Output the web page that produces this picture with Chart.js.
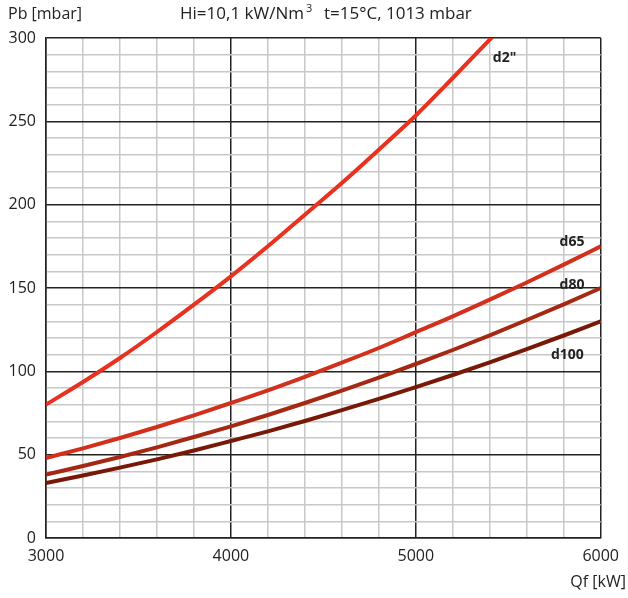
<!DOCTYPE html>
<html>
<head>
<meta charset="utf-8">
<script src="https://cdn.jsdelivr.net/npm/chart.js@4/dist/chart.umd.min.js"></script>
<style>
  body { margin: 0; background: #fff; }
  #wrap { width: 628px; height: 598px; }
</style>
</head>
<body>
<div id="wrap"><canvas id="myChart" width="628" height="598"></canvas></div>
<script>
var qf = [3000, 3200, 3400, 3600, 3800, 4000, 4200, 4400, 4600, 4800, 5000, 5200, 5400, 5600, 5800, 6000];
var d2 = [80, 93.6, 108, 123.6, 140, 157, 175, 194, 213, 233, 253.5, 276, 299, 322];
var d65 = [48, 53.8, 60, 66.6, 73.6, 81, 88.6, 96.7, 105.2, 114, 123.5, 133, 143, 153.3, 164, 175];
var d80 = [38, 43.2, 48.6, 54.4, 60.6, 67, 73.8, 81, 88.4, 96.2, 104.4, 112.8, 121.6, 130.8, 140.2, 150];
var d100 = [33, 37.5, 42.2, 47.2, 52.5, 58.2, 64.0, 70.2, 76.7, 83.5, 90.5, 97.8, 105.4, 113.3, 121.5, 130];
var seriesNames = ['d2"', "d65", "d80", "d100"];
// where each curve name sits, in data units
var nameX = [5480, 5845, 5845, 5820];
var nameY = [288, 177.5, 152, 110];

function pts(ys) {
  var out = [];
  for (var i = 0; i < ys.length; i++) out.push({x: qf[i], y: ys[i]});
  return out;
}

var font = "'Open Sans', 'Noto Sans', sans-serif";

var textPlugin = {
  id: "texts",
  afterDraw: function(chart) {
    var ctx = chart.ctx;
    var xs = chart.scales.x, ys = chart.scales.y;
    ctx.save();
    ctx.fillStyle = "#222";
    ctx.font = "16px " + font;
    ctx.textBaseline = "middle";
    ctx.textAlign = "left";
    ctx.fillText("Pb [mbar]", 8, 14);
    ctx.textAlign = "right";
    ctx.fillText("Qf [kW]", 626, 582);
    ctx.textAlign = "left";
    ctx.font = "17px " + font;
    ctx.fillText("Hi=10,1 kW/Nm", 180, 14);
    var w = ctx.measureText("Hi=10,1 kW/Nm").width;
    ctx.font = "11px " + font;
    ctx.fillText("3", 180 + w + 2, 9);
    ctx.font = "17px " + font;
    ctx.fillText("t=15°C, 1013 mbar", 180 + w + 20, 14);
    ctx.font = "bold 14px " + font;
    ctx.textAlign = "center";
    for (var i = 0; i < seriesNames.length; i++) {
      ctx.fillText(seriesNames[i], xs.getPixelForValue(nameX[i]), ys.getPixelForValue(nameY[i]));
    }
    ctx.restore();
  }
};

new Chart("myChart", {
  type: "line",
  data: {
    datasets: [
      { data: pts(d2), borderColor: "#e8311f", borderWidth: 4 },
      { data: pts(d65), borderColor: "#d2301c", borderWidth: 4 },
      { data: pts(d80), borderColor: "#a52812", borderWidth: 4 },
      { data: pts(d100), borderColor: "#781806", borderWidth: 4 }
    ]
  },
  options: {
    responsive: false,
    animation: false,
    clip: true,
    elements: { point: { radius: 0 }, line: { tension: 0.4, cubicInterpolationMode: "monotone" } },
    layout: { padding: { top: 38, right: 26, left: 0, bottom: 0 } },
    plugins: { legend: { display: false }, tooltip: { enabled: false } },
    scales: {
      x: {
        type: "linear", min: 3000, max: 6000,
        afterFit: function(s) { s.height = 60; },
        border: { color: "#222", width: 1.5 },
        grid: {
          lineWidth: 1.5,
          drawTicks: false,
          color: function(c) { return c.tick && c.tick.value % 1000 === 0 ? "#222" : "#c8c8c8"; }
        },
        ticks: {
          stepSize: 200, autoSkip: false, maxRotation: 0, padding: 9,
          color: "#222", font: { size: 16, family: font },
          callback: function(v) { return v % 1000 === 0 ? v : ""; }
        }
      },
      y: {
        min: 0, max: 300,
        afterFit: function(s) { s.width = 46; },
        border: { color: "#222", width: 1.5 },
        grid: {
          lineWidth: 1.5,
          drawTicks: false,
          color: function(c) { return c.tick && c.tick.value % 50 === 0 ? "#222" : "#c8c8c8"; }
        },
        ticks: {
          stepSize: 10, autoSkip: false, padding: 10,
          color: "#222", font: { size: 16, family: font },
          callback: function(v) { return v % 50 === 0 ? v : ""; }
        }
      }
    }
  },
  plugins: [textPlugin]
});
</script>
</body>
</html>
